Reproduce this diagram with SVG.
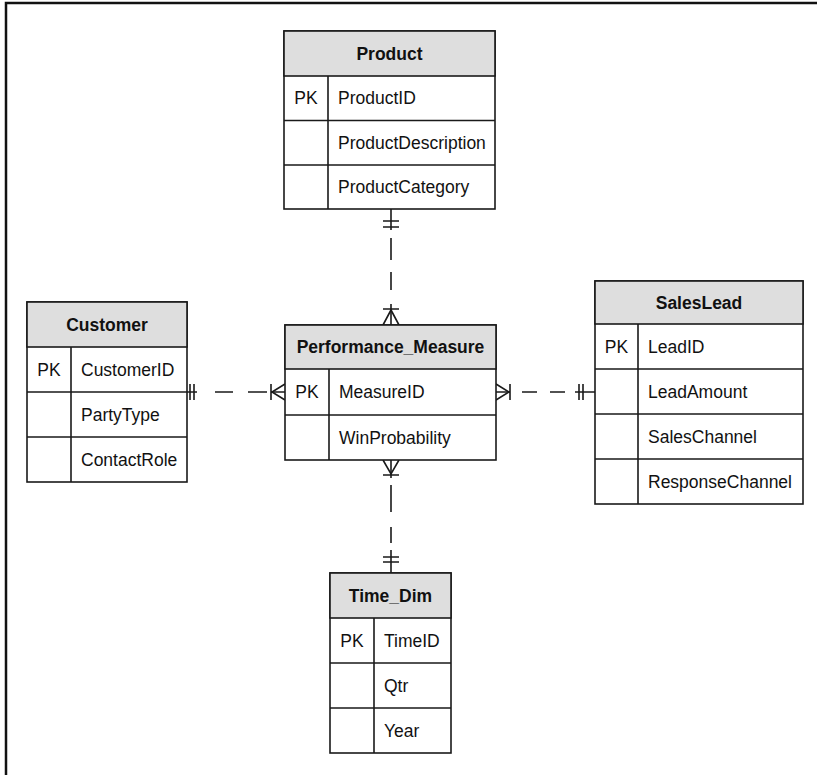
<svg xmlns="http://www.w3.org/2000/svg" width="817" height="775" viewBox="0 0 817 775">
  <style>
    .frame { fill: none; stroke: #111; stroke-width: 2.5; }
    .box { fill: #fff; stroke: #1a1a1a; stroke-width: 1.6; }
    .head { fill: #dedede; stroke: #1a1a1a; stroke-width: 1.6; }
    .grid { stroke: #1a1a1a; stroke-width: 1.6; fill: none; }
    .title { font-family: "Liberation Sans", Arial, sans-serif; font-size: 17.5px; font-weight: bold; fill: #111; text-anchor: middle; dominant-baseline: central; }
    .cell { font-family: "Liberation Sans", Arial, sans-serif; font-size: 17.5px; fill: #111; dominant-baseline: central; }
    .key { text-anchor: middle; }
    .link { stroke: #1a1a1a; stroke-width: 1.6; fill: none; }
  </style>

  <!-- page frame (top and left edges) -->
  <path class="frame" d="M6,775 V3 H817"/>

  <!-- relationships -->
  <g id="connectors">
    <!-- Product (one) to Performance_Measure (many) -->
    <path class="link" d="M391,209 V230 M391,238 V260 M391,272 V290 M391,304 V325"/>
    <path class="link" d="M383,221 H399 M383,227 H399"/>
    <path class="link" d="M383,309 H399 M391,310 L383,325 M391,310 L399,325"/>

    <!-- Performance_Measure (many) to Time_Dim (one) -->
    <path class="link" d="M391,460 V478 M391,485 V512 M391,527 V543 M391,550 V573"/>
    <path class="link" d="M383,475 H399 M383,460 L391,474 L399,460"/>
    <path class="link" d="M383,557 H399 M383,562 H399"/>

    <!-- Customer (one) to Performance_Measure (many) -->
    <path class="link" d="M187,392 H197 M215,392 H233 M248,392 H267 M271,392 H285"/>
    <path class="link" d="M190,384 V400 M194,384 V400"/>
    <path class="link" d="M271,384 V400 M285,384 L272,392 L285,400"/>

    <!-- Performance_Measure (many) to SalesLead (one) -->
    <path class="link" d="M496,392 H510 M522,392 H537 M550,392 H565 M575,392 H595"/>
    <path class="link" d="M510,384 V400 M496,384 L509,392 L496,400"/>
    <path class="link" d="M579,384 V400 M583,384 V400"/>
  </g>

  <!-- Product table -->
  <g id="product">
    <rect class="box" x="284" y="31" width="211" height="178"/>
    <rect class="head" x="284" y="31" width="211" height="45"/>
    <path class="grid" d="M284,120.5 H495 M284,165 H495 M328,76 V209"/>
    <text class="title" x="389.5" y="53.5">Product</text>
    <text class="cell key" x="306" y="98">PK</text>
    <text class="cell" x="338" y="98">ProductID</text>
    <text class="cell" x="338" y="143">ProductDescription</text>
    <text class="cell" x="338" y="187">ProductCategory</text>
  </g>

  <!-- Customer table -->
  <g id="customer">
    <rect class="box" x="27" y="302" width="160" height="180"/>
    <rect class="head" x="27" y="302" width="160" height="45"/>
    <path class="grid" d="M27,392 H187 M27,437 H187 M71,347 V482"/>
    <text class="title" x="107" y="324.5">Customer</text>
    <text class="cell key" x="49" y="369.5">PK</text>
    <text class="cell" x="81" y="369.5">CustomerID</text>
    <text class="cell" x="81" y="414.5">PartyType</text>
    <text class="cell" x="81" y="459.5">ContactRole</text>
  </g>

  <!-- Performance_Measure table -->
  <g id="performance-measure">
    <rect class="box" x="285" y="325" width="211" height="135"/>
    <rect class="head" x="285" y="325" width="211" height="44"/>
    <path class="grid" d="M285,415 H496 M329,369 V460"/>
    <text class="title" x="390.5" y="347">Performance_Measure</text>
    <text class="cell key" x="307" y="392">PK</text>
    <text class="cell" x="339" y="392">MeasureID</text>
    <text class="cell" x="339" y="437.5">WinProbability</text>
  </g>

  <!-- SalesLead table -->
  <g id="saleslead">
    <rect class="box" x="595" y="281" width="208" height="223"/>
    <rect class="head" x="595" y="281" width="208" height="43"/>
    <path class="grid" d="M595,369 H803 M595,414 H803 M595,459 H803 M638,324 V504"/>
    <text class="title" x="699" y="302.5">SalesLead</text>
    <text class="cell key" x="616.5" y="346.5">PK</text>
    <text class="cell" x="648" y="346.5">LeadID</text>
    <text class="cell" x="648" y="391.5">LeadAmount</text>
    <text class="cell" x="648" y="436.5">SalesChannel</text>
    <text class="cell" x="648" y="481.5">ResponseChannel</text>
  </g>

  <!-- Time_Dim table -->
  <g id="time-dim">
    <rect class="box" x="330" y="573" width="121" height="180"/>
    <rect class="head" x="330" y="573" width="121" height="45"/>
    <path class="grid" d="M330,663 H451 M330,708 H451 M374,618 V753"/>
    <text class="title" x="390.5" y="595.5">Time_Dim</text>
    <text class="cell key" x="352" y="640.5">PK</text>
    <text class="cell" x="384" y="640.5">TimeID</text>
    <text class="cell" x="384" y="685.5">Qtr</text>
    <text class="cell" x="384" y="730.5">Year</text>
  </g>
</svg>
